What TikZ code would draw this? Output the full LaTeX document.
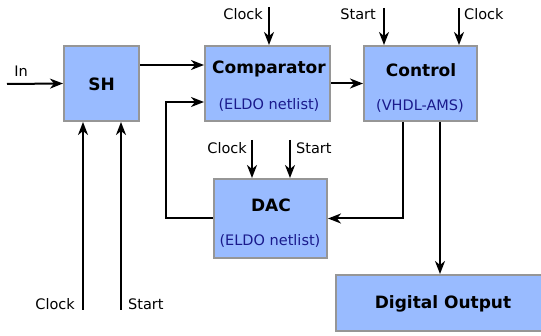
\documentclass[tikz,border=0pt]{standalone}
\usepackage{fontspec}
\setmainfont{DejaVu Sans}
\usetikzlibrary{arrows.meta}
\definecolor{boxfill}{RGB}{153,187,255}
\definecolor{boxline}{RGB}{150,150,150}
\definecolor{subblue}{RGB}{26,26,140}
\tikzset{
  block/.style={draw=boxline, line width=2pt, fill=boxfill, inner sep=0pt},
  title/.style={font=\fontsize{17}{20}\selectfont\bfseries, inner sep=0pt},
  sub/.style={font=\fontsize{14.5}{17}\selectfont, text=subblue, inner sep=0pt},
  lbl/.style={font=\fontsize{14.5}{17}\selectfont, inner sep=0pt},
  sig/.style={line width=2pt, -{Stealth[length=13pt,width=10pt,inset=4pt]}},
  wire/.style={line width=2pt}
}
\begin{document}
\begin{tikzpicture}[x=1pt,y=-1pt]
                \useasboundingbox (0,0) rectangle (541,336);
                \clip (0,0) rectangle (541,336);
                % blocks
                \node [block, minimum width=75pt, minimum height=75pt] (sh) at (101.5,83.5) {};
                \node [title] (shtxt) at (101.5,84) {SH};
                \node [block, minimum width=125pt, minimum height=75pt] (comp) at (267.5,83.5) {};
                \node [title] (comptxt) at (269,69) {Comparator};
                \node [sub] (compsub) at (269,105) {(ELDO netlist)};
                \node [block, minimum width=113pt, minimum height=75pt] (ctrl) at (420.5,83.5) {};
                \node [title] (ctrltxt) at (421,70) {Control};
                \node [sub] (ctrlsub) at (420,106) {(VHDL-AMS)};
                \node [block, minimum width=113pt, minimum height=79pt] (dac) at (270.5,218.5) {};
                \node [title] (dactxt) at (271,205) {DAC};
                \node [sub] (dacsub) at (270,241) {(ELDO netlist)};
                \node [block, minimum width=214pt, minimum height=56pt] (dout) at (443,303) {};
                \node [title] (douttxt) at (443,304) {Digital Output};
                % free ends
                \coordinate (in) at (7,84);
                \coordinate (clkc) at (269,7);
                \coordinate (stc) at (384,8);
                \coordinate (clkk) at (459,8);
                \coordinate (clkd) at (252,140);
                \coordinate (std) at (290,140);
                \coordinate (clks) at (83,310);
                \coordinate (sts) at (121,310);
                % labels
                \node [lbl] (lin) at (21,71) {In};
                \node [lbl, anchor=east] (lclkc) at (263,14) {Clock};
                \node [lbl, anchor=east] (lstc) at (376,14) {Start};
                \node [lbl, anchor=west] (lclkk) at (464,14) {Clock};
                \node [lbl, anchor=east] (lclkd) at (247,148) {Clock};
                \node [lbl, anchor=west] (lstd) at (296,148) {Start};
                \node [lbl, anchor=east] (lclks) at (75,304) {Clock};
                \node [lbl, anchor=west] (lsts) at (128,304) {Start};
                % connectors
                \draw [sig] (in) -- (sh.west);
                \draw [sig] ([yshift=18.5pt]sh.east) -- ([yshift=18.5pt]comp.west);
                \draw [sig] (comp) -- (ctrl);
                \draw [sig] (dac.west) -| ([xshift=-38pt,yshift=-18.5pt]comp.west) -- ([yshift=-18.5pt]comp.west);
                \draw [sig] ([xshift=-17.5pt]ctrl.south) |- (dac.east);
                \draw [sig] ([xshift=19.5pt]ctrl.south) -- ([xshift=19.5pt]ctrl.south |- dout.north);
                \draw [sig] (clkc) -- (clkc |- comp.north);
                \draw [sig] (stc) -- (stc |- ctrl.north);
                \draw [sig] (clkk) -- (clkk |- ctrl.north);
                \draw [sig] (clkd) -- (clkd |- dac.north);
                \draw [sig] (std) -- (std |- dac.north);
                \draw [sig] (clks) -- (clks |- sh.south);
                \draw [sig] (sts) -- (sts |- sh.south);
            \end{tikzpicture}
\end{document}
